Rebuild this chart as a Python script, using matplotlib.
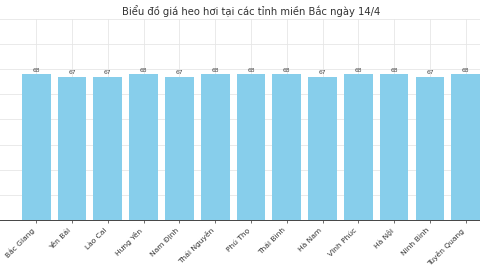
import matplotlib
matplotlib.use("Agg")
import matplotlib.pyplot as plt

provinces = ["Bắc Giang", "Yên Bái", "Lào Cai", "Hưng Yên", "Nam Định", "Thái Nguyên",
             "Phú Thọ", "Thái Bình", "Hà Nam", "Vĩnh Phúc", "Hà Nội", "Ninh Bình", "Tuyên Quang"]
prices = [68, 67, 67, 68, 67, 68, 68, 68, 67, 68, 68, 67, 68]
title = "Biểu đồ giá heo hơi tại các tỉnh miền Bắc ngày 14/4"

fig = plt.figure(figsize=(4.8, 2.7), dpi=100)
# the reference is a crop: axes run past the left and right edges
ax = fig.add_axes([-1 / 480, 50 / 270, 504 / 480, 201 / 270])

x = list(range(len(provinces)))
bars = ax.bar(x, prices, width=0.8, color="#87CEEB", zorder=2)
for b, v in zip(bars, prices):
    ax.text(b.get_x() + b.get_width() / 2, v + 0.6, str(v), ha="center", va="bottom",
            fontsize=4.3, color="#444444")

ax.set_ylim(10, 90)
ax.set_yticks(range(10, 91, 10))
ax.set_yticklabels([])
ax.set_xticks(x)
ax.set_xticklabels(provinces, rotation=45, ha="right", fontsize=5.4, color="#333333")
ax.tick_params(axis="x", length=2, width=0.6, color="#555555", pad=3)
ax.tick_params(axis="y", length=2, width=0.6, color="#999999")
ax.grid(True, color="#e6e6e6", linewidth=0.6, zorder=0)
for s in ["top", "right", "left"]:
    ax.spines[s].set_visible(False)
ax.spines["bottom"].set_color("#444444")
ax.spines["bottom"].set_linewidth(0.7)
ax.set_title(title, fontsize=7.2, color="#333333", pad=3)

fig.savefig("out.png", dpi=100)
